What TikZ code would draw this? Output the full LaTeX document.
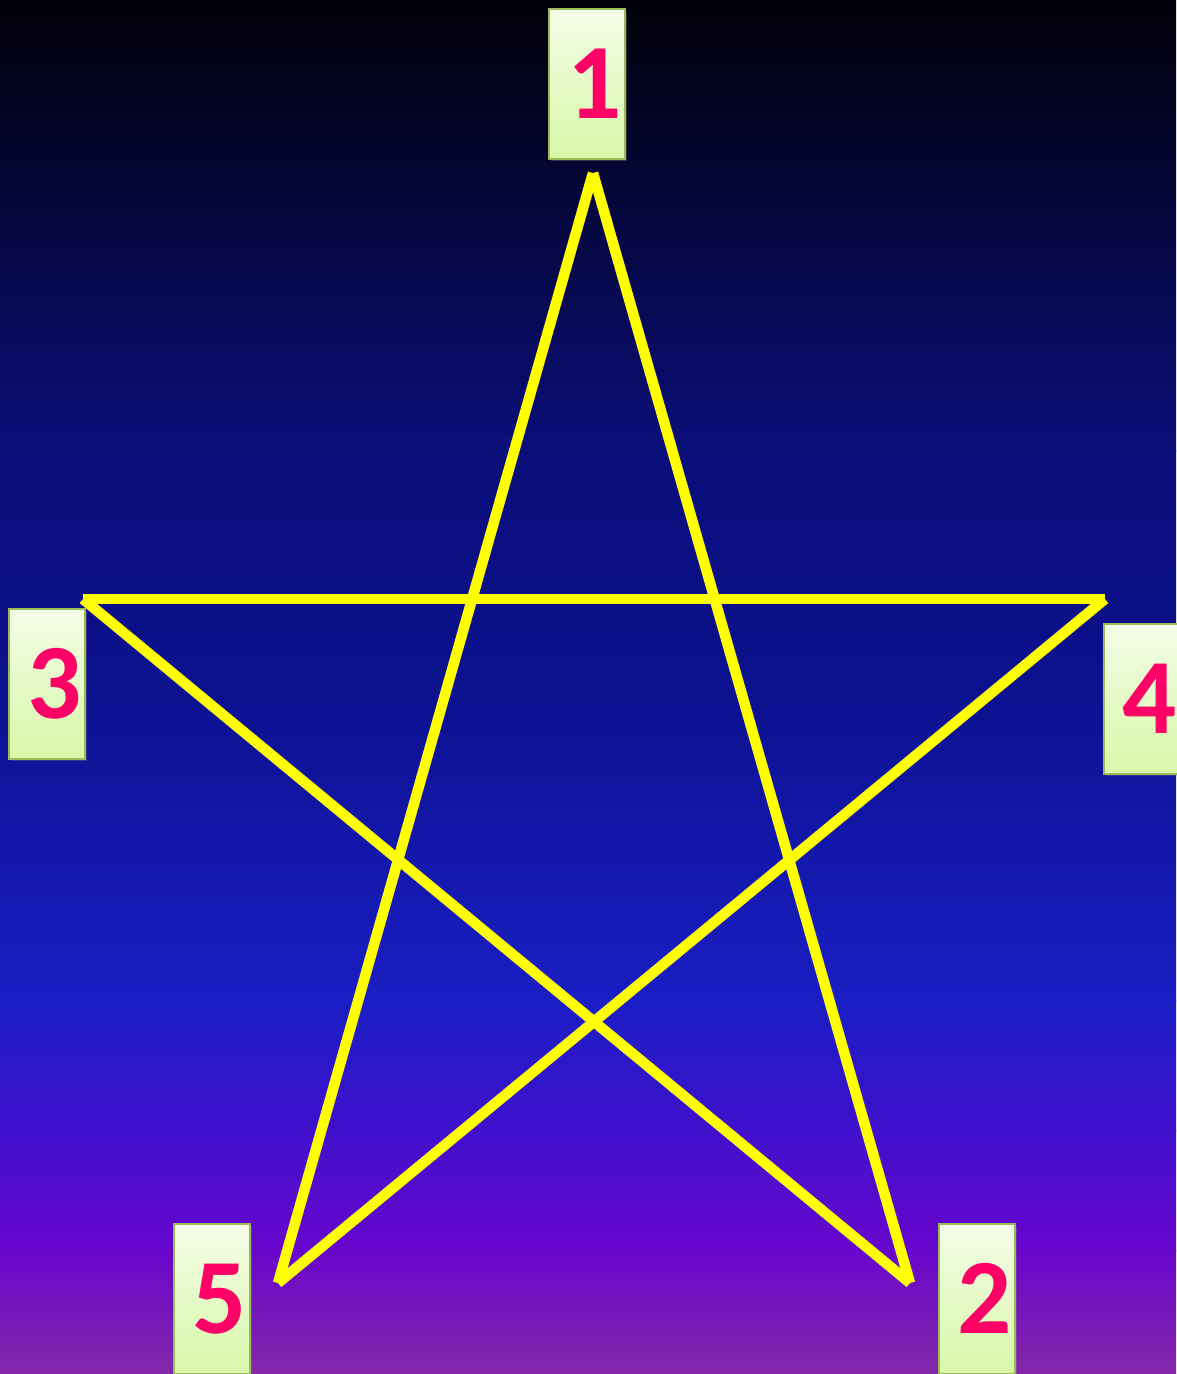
\documentclass[tikz,border=0pt]{standalone}
\usepackage{fontspec}
\setmainfont{Carlito}
\usetikzlibrary{shadows}
\definecolor{bgA}{HTML}{000008}
\definecolor{bgB}{HTML}{0A0E78}
\definecolor{bgC}{HTML}{0C1190}
\definecolor{bgD}{HTML}{1A1EC4}
\definecolor{bgE}{HTML}{4010CC}
\definecolor{bgF}{HTML}{6806CC}
\definecolor{bgG}{HTML}{8428A8}
\definecolor{starY}{HTML}{FFFF00}
\definecolor{numPink}{HTML}{FF0066}
\definecolor{boxTop}{HTML}{F4FCE8}
\definecolor{boxBot}{HTML}{D8F8A8}
\definecolor{boxLine}{HTML}{9BBB59}
\tikzset{
  labelbox/.style={draw=boxLine, line width=1.5pt, top color=boxTop, bottom color=boxBot,
    minimum width=76pt, minimum height=150pt, inner sep=0pt, anchor=north west,
    text=numPink, font=\fontsize{107}{112}\selectfont\bfseries,
    drop shadow={shadow xshift=2pt, shadow yshift=-2pt, opacity=0.35}},
  starline/.style={draw=starY, line width=10.5pt, line cap=butt}
}
\newcommand{\numlab}[1]{\hspace*{15pt}\raisebox{-2pt}{#1}}
\begin{document}
\begin{tikzpicture}[x=1pt,y=-1pt]
\useasboundingbox (0,0) rectangle (1176,1374);
\shade[top color=bgA, bottom color=bgB] (0,-1) rectangle (1176,451);
\shade[top color=bgB, bottom color=bgC] (0,450) rectangle (1176,701);
\shade[top color=bgC, bottom color=bgD] (0,700) rectangle (1176,1001);
\shade[top color=bgD, bottom color=bgE] (0,1000) rectangle (1176,1131);
\shade[top color=bgE, bottom color=bgF] (0,1130) rectangle (1176,1251);
\shade[top color=bgF, bottom color=bgG] (0,1250) rectangle (1176,1375);
% star vertices
\coordinate (v1) at (593,173);
\coordinate (v2) at (910,1283);
\coordinate (v3) at (83,599);
\coordinate (v4) at (1105,599);
\coordinate (v5) at (278,1283);
\draw[starline] (v1) -- (v2);
\draw[starline] (v2) -- (v3);
\draw[starline] (v3) -- (v4);
\draw[starline] (v4) -- (v5);
\draw[starline] (v5) -- (v1);
% labels
\node[labelbox] (n1) at (548,8) {\numlab{1}};
\node[labelbox] (n3) at (8,608) {\numlab{3}};
\node[labelbox] (n4) at (1103,623) {\numlab{4}};
\node[labelbox] (n5) at (173,1223) {\numlab{5}};
\node[labelbox] (n2) at (938,1223) {\numlab{2}};
\end{tikzpicture}
\end{document}
